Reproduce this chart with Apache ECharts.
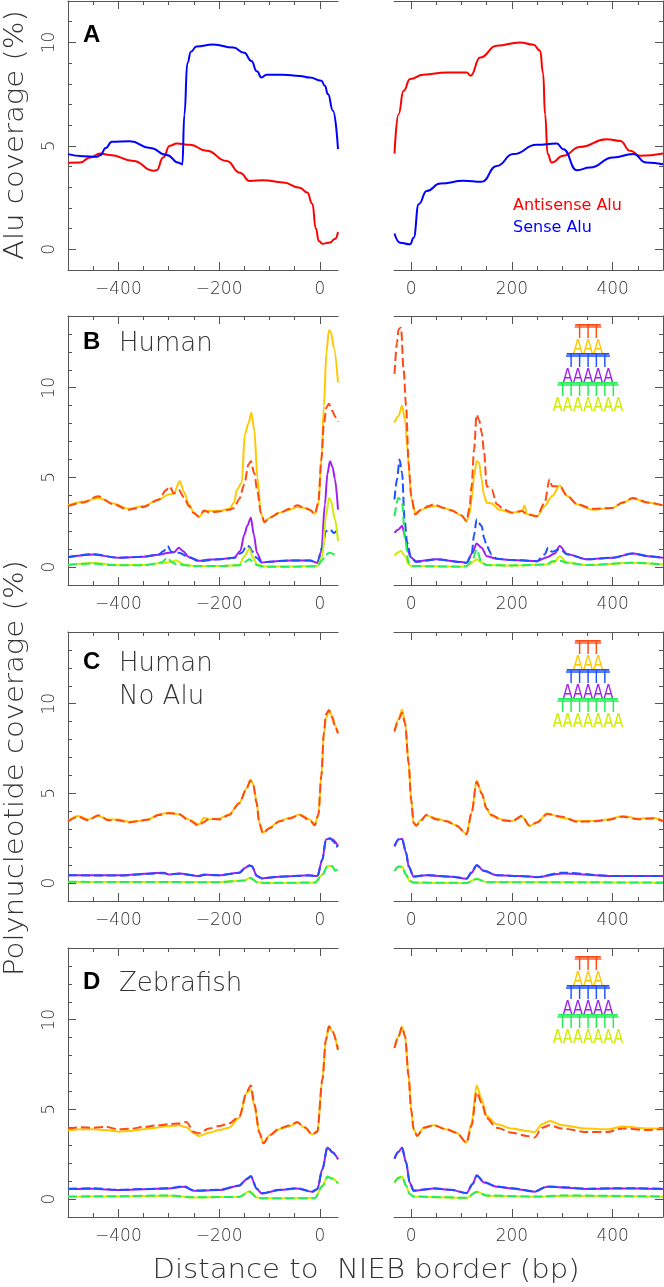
<!DOCTYPE html>
<html><head><meta charset="utf-8">
<script src="https://cdn.jsdelivr.net/npm/echarts@6/dist/echarts.min.js"></script>
<style>html,body{margin:0;padding:0;background:#fff}#c{width:664px;height:1287px}</style>
</head><body><div id="c"></div>
<script>
// ---------- tick values ----------
const X_MAJOR_L = [-400, -200, 0];
const X_MINOR_L = [-450, -350, -300, -250, -150, -100, -50];
const X_MAJOR_R = [0, 200, 400];
const X_MINOR_R = [50, 100, 150, 250, 300, 350, 450];
const Y_MAJOR = [0, 5, 10];
const Y_MINOR_A = [1, 2, 3, 4, 6, 7, 8, 9, 11];
const Y_MINOR_B = [1, 2, 3, 4, 6, 7, 8, 9, 11, 12, 13];

// ---------- Panel A: Alu coverage ----------
const A_L_antisense = [[-500,4.18],[-476,4.2],[-456,4.44],[-436,4.63],[-417,4.56],[-370,4.27],[-331,3.8],[-324,3.82],[-311,4.44],[-298,5.0],[-284,5.11],[-258,5.05],[-225,4.76],[-185,4.27],[-159,3.7],[-139,3.3],[-112,3.34],[-73,3.23],[-40,2.98],[-25,2.75],[-15,2.2],[-8,1.0],[-2,0.4],[5,0.27],[20,0.33],[30,0.5],[36,0.84]];
const A_L_sense = [[-500,4.6],[-470,4.5],[-443,4.47],[-436,4.55],[-425,4.9],[-413,5.2],[-377,5.22],[-337,4.9],[-304,4.56],[-280,4.18],[-273,4.1],[-269,6.5],[-263,9.0],[-256,9.55],[-245,9.8],[-212,9.9],[-172,9.75],[-150,9.5],[-136,9.1],[-125,8.6],[-116,8.3],[-106,8.44],[-73,8.44],[-40,8.38],[-20,8.3],[3,8.15],[10,7.9],[16,7.5],[26,6.7],[36,4.84]];
const A_R_antisense = [[-33,4.63],[-25,6.53],[-15,7.66],[-2,8.23],[24,8.44],[71,8.55],[110,8.55],[118,8.39],[137,9.27],[170,9.84],[216,10.0],[243,9.89],[256,9.6],[262,8.5],[266,6.5],[271,4.6],[279,4.19],[302,4.52],[335,4.95],[388,5.32],[415,5.24],[435,4.76],[454,4.52],[500,4.63]];
const A_R_sense = [[-33,0.76],[-22,0.32],[-2,0.24],[5,0.56],[15,2.18],[31,2.82],[58,3.18],[104,3.31],[140,3.26],[170,4.03],[203,4.6],[249,5.05],[289,5.11],[302,4.84],[329,3.82],[355,3.95],[401,4.44],[441,4.6],[467,4.19],[500,4.11]];

// ---------- Panel B: Human ----------
const B_L_AAA = [[-500,3.44],[-470,3.64],[-440,3.85],[-410,3.55],[-380,3.25],[-350,3.4],[-320,3.77],[-300,4.05],[-290,4.1],[-278,4.8],[-270,4.2],[-260,3.5],[-250,3.03],[-240,2.8],[-230,3.1],[-220,3.12],[-200,3.12],[-180,3.25],[-170,3.6],[-165,4.3],[-155,4.7],[-149,7.4],[-142,8.0],[-136,8.6],[-130,7.6],[-124,5.0],[-117,3.0],[-110,2.5],[-100,2.75],[-80,3.03],[-60,3.2],[-45,3.35],[-30,3.3],[-20,3.2],[-10,2.97],[-3,3.5],[3,6.0],[8,9.0],[13,12.0],[18,13.2],[22,13.1],[28,12.2],[36,10.3]];
const B_L_TTT = [[-500,3.4],[-470,3.6],[-440,3.95],[-410,3.5],[-380,3.2],[-350,3.35],[-320,3.75],[-305,4.3],[-298,4.5],[-290,4.1],[-280,4.3],[-270,3.9],[-260,3.4],[-250,3.0],[-240,2.8],[-230,3.15],[-220,3.05],[-200,3.1],[-180,3.2],[-170,3.3],[-160,3.8],[-150,4.6],[-142,5.7],[-137,5.9],[-130,5.2],[-124,4.2],[-117,3.0],[-110,2.5],[-100,2.75],[-80,3.03],[-60,3.25],[-45,3.45],[-30,3.3],[-20,3.2],[-10,2.95],[-3,3.6],[3,6.0],[8,8.0],[13,8.9],[18,9.1],[25,8.7],[30,8.4],[36,8.1]];
const B_L_AAAAA = [[-500,0.56],[-450,0.7],[-400,0.52],[-350,0.58],[-320,0.68],[-300,0.8],[-290,0.82],[-280,1.08],[-272,0.9],[-260,0.55],[-240,0.35],[-220,0.42],[-200,0.43],[-170,0.52],[-158,0.9],[-150,1.8],[-144,2.3],[-137,2.75],[-131,1.8],[-125,0.8],[-115,0.25],[-100,0.3],[-60,0.37],[-20,0.37],[-5,0.24],[3,0.9],[10,3.5],[15,5.2],[20,5.9],[25,5.6],[30,4.9],[36,3.2]];
const B_L_TTTTT = [[-500,0.55],[-450,0.72],[-400,0.52],[-350,0.58],[-320,0.7],[-310,0.9],[-302,1.17],[-295,0.85],[-280,0.8],[-260,0.55],[-240,0.33],[-200,0.43],[-170,0.52],[-155,0.8],[-145,1.2],[-140,1.15],[-135,0.9],[-125,0.5],[-115,0.25],[-100,0.3],[-60,0.37],[-20,0.37],[-5,0.24],[5,1.1],[12,2.0],[20,2.1],[28,1.9],[36,2.1]];
const B_L_AAAAAAA = [[-500,0.11],[-450,0.22],[-400,0.12],[-350,0.12],[-310,0.22],[-300,0.27],[-285,0.37],[-270,0.15],[-250,0.06],[-200,0.06],[-160,0.12],[-150,0.6],[-140,1.02],[-132,0.5],[-125,0.15],[-110,0.03],[-50,0.03],[-5,0.06],[5,0.6],[12,2.8],[18,3.85],[22,3.7],[30,2.66],[36,1.45]];
const B_L_TTTTTTT = [[-500,0.12],[-450,0.2],[-420,0.12],[-400,0.1],[-350,0.1],[-315,0.25],[-302,0.52],[-295,0.3],[-285,0.15],[-250,0.06],[-200,0.06],[-160,0.1],[-148,0.3],[-140,0.43],[-132,0.3],[-125,0.1],[-110,0.02],[-50,0.02],[-5,0.05],[5,0.4],[12,0.7],[20,0.8],[30,0.7],[36,0.76]];
const B_R_AAA = [[-33,8.05],[-25,8.42],[-18,9.0],[-12,8.2],[-7,6.5],[-3,5.0],[0,3.9],[8,3.03],[20,3.2],[35,3.35],[50,3.4],[65,3.3],[80,3.18],[100,2.88],[110,2.56],[116,3.0],[120,3.77],[125,5.07],[130,5.9],[135,5.82],[140,4.9],[145,3.96],[150,3.59],[160,3.55],[175,3.2],[200,3.03],[220,3.12],[225,3.44],[230,2.94],[250,2.84],[265,3.4],[280,3.96],[295,4.55],[310,3.96],[330,3.49],[360,3.2],[400,3.3],[420,3.59],[440,3.83],[470,3.59],[500,3.44]];
const B_R_TTT = [[-33,10.77],[-28,12.5],[-25,13.25],[-20,13.35],[-15,11.0],[-10,9.0],[-5,5.8],[0,4.0],[8,2.94],[20,3.2],[35,3.4],[45,3.5],[50,3.45],[65,3.3],[80,3.15],[100,2.88],[110,2.56],[116,3.3],[120,4.5],[125,6.56],[130,8.5],[135,8.2],[140,7.5],[145,6.37],[150,4.5],[160,4.33],[170,3.5],[185,3.2],[200,3.03],[220,3.12],[230,2.94],[250,2.84],[265,3.6],[275,4.9],[280,4.5],[295,4.5],[310,3.96],[330,3.5],[360,3.25],[400,3.3],[420,3.6],[440,3.85],[470,3.6],[500,3.44]];
const B_R_AAAAA = [[-33,1.91],[-25,2.1],[-18,2.29],[-12,1.73],[-5,0.8],[0,0.52],[10,0.33],[50,0.43],[100,0.28],[110,0.24],[122,0.8],[130,1.32],[140,1.08],[150,0.61],[170,0.46],[200,0.39],[250,0.33],[270,0.55],[285,0.76],[295,1.17],[310,0.71],[350,0.43],[400,0.52],[440,0.76],[470,0.61],[500,0.52]];
const B_R_TTTTT = [[-33,3.77],[-28,4.9],[-23,6.0],[-18,5.26],[-13,2.66],[-8,1.36],[0,0.52],[10,0.28],[50,0.43],[100,0.28],[110,0.24],[120,0.7],[125,1.8],[130,2.66],[140,2.29],[145,1.6],[150,1.17],[160,0.7],[170,0.46],[200,0.39],[250,0.33],[265,0.7],[272,1.08],[280,0.85],[295,1.0],[310,0.71],[350,0.43],[400,0.52],[440,0.76],[470,0.61],[500,0.52]];
const B_R_AAAAAAA = [[-33,0.65],[-20,0.89],[-12,0.61],[-5,0.15],[0,0.06],[100,0.02],[110,0.06],[125,0.33],[130,0.43],[140,0.25],[150,0.11],[200,0.09],[270,0.15],[285,0.3],[295,0.61],[310,0.24],[350,0.11],[440,0.24],[500,0.15]];
const B_R_TTTTTTT = [[-33,2.84],[-25,3.87],[-18,3.59],[-12,1.54],[-5,0.24],[0,0.06],[100,0.02],[110,0.06],[122,0.4],[130,0.99],[140,0.24],[150,0.11],[200,0.09],[270,0.15],[280,0.33],[295,0.35],[310,0.24],[350,0.11],[440,0.24],[500,0.15]];

// ---------- Panel C: Human, no Alu ----------
const C_L_AAA = [[-500,3.46],[-480,3.74],[-460,3.55],[-440,3.74],[-420,3.55],[-400,3.55],[-380,3.42],[-360,3.46],[-340,3.55],[-320,3.83],[-300,3.92],[-280,3.83],[-260,3.55],[-240,3.27],[-230,3.64],[-220,3.55],[-200,3.6],[-180,3.83],[-160,4.48],[-145,5.3],[-138,5.78],[-132,5.5],[-126,4.6],[-120,3.36],[-113,2.81],[-100,3.09],[-80,3.46],[-60,3.64],[-40,3.83],[-20,3.55],[-10,3.27],[-3,3.8],[3,6.0],[8,8.3],[12,9.2],[18,9.59],[25,9.3],[30,8.8],[36,8.38]];
const C_L_TTT = [[-500,3.44],[-480,3.7],[-460,3.5],[-440,3.78],[-420,3.5],[-400,3.5],[-380,3.38],[-360,3.45],[-340,3.55],[-320,3.8],[-300,3.9],[-280,3.85],[-260,3.5],[-240,3.2],[-230,3.4],[-220,3.6],[-200,3.55],[-180,3.8],[-160,4.45],[-145,5.3],[-138,5.7],[-132,5.45],[-126,4.5],[-120,3.3],[-113,2.78],[-100,3.05],[-80,3.45],[-60,3.6],[-40,3.8],[-20,3.5],[-10,3.22],[-3,3.8],[3,6.0],[8,8.4],[12,9.4],[18,9.65],[25,9.2],[30,8.7],[36,8.35]];
const C_L_AAAAA = [[-500,0.43],[-400,0.43],[-310,0.58],[-300,0.48],[-280,0.54],[-240,0.39],[-230,0.48],[-200,0.43],[-160,0.58],[-148,0.85],[-140,0.99],[-135,0.95],[-125,0.39],[-115,0.26],[-80,0.35],[-20,0.43],[-5,0.39],[5,1.32],[12,2.43],[20,2.5],[25,2.43],[36,2.06]];
const C_L_TTTTT = [[-500,0.44],[-400,0.42],[-310,0.55],[-300,0.5],[-280,0.52],[-240,0.4],[-230,0.45],[-200,0.44],[-160,0.57],[-148,0.83],[-140,0.97],[-135,0.93],[-125,0.4],[-115,0.27],[-80,0.36],[-20,0.42],[-5,0.38],[5,1.3],[12,2.4],[20,2.48],[28,2.3],[32,2.0],[36,2.1]];
const C_L_AAAAAAA = [[-500,0.06],[-200,0.06],[-150,0.15],[-138,0.3],[-125,0.06],[-110,0.0],[-10,0.02],[5,0.48],[15,0.95],[25,0.95],[30,0.67],[36,0.76]];
const C_L_TTTTTTT = [[-500,0.07],[-200,0.05],[-150,0.14],[-138,0.28],[-125,0.05],[-110,0.01],[-10,0.03],[5,0.46],[15,0.93],[25,0.94],[30,0.7],[36,0.75]];
const C_R_AAA = [[-33,8.48],[-25,9.13],[-18,9.68],[-12,8.94],[-5,6.71],[0,4.67],[5,3.36],[10,3.22],[20,3.55],[30,3.77],[50,3.6],[70,3.46],[90,3.22],[110,2.75],[120,3.92],[130,5.69],[140,5.04],[150,4.11],[160,3.74],[180,3.55],[200,3.46],[220,3.7],[235,3.18],[250,3.4],[270,3.88],[300,3.64],[330,3.46],[360,3.46],[390,3.55],[420,3.74],[450,3.59],[480,3.64],[500,3.46]];
const C_R_TTT = [[-33,8.45],[-25,9.1],[-18,9.5],[-12,8.9],[-5,6.7],[0,4.65],[5,3.35],[10,3.2],[20,3.5],[30,3.8],[50,3.55],[70,3.45],[90,3.2],[110,2.72],[120,3.9],[130,5.65],[140,5.0],[150,4.15],[160,3.8],[180,3.5],[200,3.44],[220,3.75],[235,3.2],[250,3.38],[270,3.85],[300,3.7],[330,3.42],[360,3.44],[390,3.52],[420,3.7],[450,3.56],[480,3.6],[500,3.46]];
const C_R_AAAAA = [[-33,2.06],[-25,2.43],[-18,2.47],[-10,1.69],[-5,0.95],[5,0.35],[30,0.43],[80,0.35],[110,0.24],[120,0.58],[130,0.99],[145,0.67],[170,0.43],[220,0.39],[250,0.33],[300,0.54],[400,0.39],[500,0.39]];
const C_R_TTTTT = [[-33,2.04],[-25,2.45],[-18,2.45],[-10,1.7],[-5,0.93],[5,0.36],[30,0.45],[80,0.36],[110,0.25],[120,0.6],[130,1.0],[145,0.68],[170,0.44],[220,0.38],[250,0.34],[300,0.58],[400,0.4],[500,0.4]];
const C_R_AAAAAAA = [[-33,0.67],[-25,0.91],[-18,0.91],[-10,0.48],[-3,0.11],[5,0.02],[110,0.0],[130,0.24],[150,0.06],[500,0.02]];
const C_R_TTTTTTT = [[-33,0.68],[-25,0.92],[-18,0.9],[-10,0.47],[-3,0.12],[5,0.03],[110,0.01],[130,0.22],[150,0.05],[500,0.03]];

// ---------- Panel D: Zebrafish ----------
const D_L_AAA = [[-500,3.83],[-475,3.9],[-450,3.89],[-425,3.85],[-400,3.76],[-375,3.8],[-350,3.89],[-325,3.98],[-300,4.07],[-280,4.11],[-265,4.0],[-250,3.67],[-240,3.52],[-220,3.7],[-200,3.85],[-180,3.98],[-160,4.54],[-145,5.93],[-137,6.11],[-130,5.19],[-120,3.7],[-112,3.11],[-100,3.56],[-80,3.89],[-60,4.07],[-45,4.26],[-30,3.98],[-15,3.61],[-5,3.8],[5,6.67],[12,8.89],[18,9.63],[25,9.35],[36,8.33]];
const D_L_TTT = [[-500,3.93],[-475,4.0],[-450,3.98],[-425,4.02],[-400,3.89],[-375,3.92],[-350,4.02],[-325,4.1],[-300,4.17],[-280,4.22],[-265,4.3],[-250,3.74],[-240,3.67],[-220,3.93],[-200,4.07],[-180,4.22],[-160,4.6],[-145,6.0],[-137,6.33],[-130,5.3],[-120,3.7],[-112,3.11],[-100,3.56],[-80,3.95],[-60,4.1],[-45,4.3],[-30,4.0],[-15,3.61],[-5,3.75],[5,6.67],[12,8.89],[18,9.63],[25,9.35],[36,8.33]];
const D_L_AAAAA = [[-500,0.56],[-450,0.58],[-400,0.5],[-350,0.55],[-300,0.59],[-270,0.69],[-250,0.46],[-200,0.5],[-160,0.74],[-145,1.11],[-137,1.26],[-125,0.56],[-115,0.31],[-80,0.5],[-45,0.59],[-15,0.41],[-5,0.56],[5,1.67],[15,2.87],[25,2.63],[36,2.22]];
const D_L_TTTTT = [[-500,0.58],[-450,0.6],[-400,0.52],[-350,0.56],[-300,0.6],[-270,0.72],[-250,0.48],[-200,0.52],[-160,0.76],[-145,1.13],[-137,1.28],[-125,0.57],[-115,0.32],[-80,0.52],[-45,0.6],[-15,0.42],[-5,0.55],[5,1.65],[15,2.9],[25,2.6],[36,2.22]];
const D_L_AAAAAAA = [[-500,0.13],[-400,0.15],[-300,0.19],[-250,0.09],[-160,0.13],[-140,0.43],[-125,0.09],[-115,0.04],[-10,0.06],[5,0.74],[15,1.26],[25,1.15],[36,0.87]];
const D_L_TTTTTTT = [[-500,0.14],[-400,0.16],[-300,0.2],[-250,0.1],[-160,0.12],[-140,0.41],[-125,0.08],[-115,0.05],[-10,0.05],[5,0.72],[15,1.24],[25,1.13],[36,0.88]];
const D_R_AAA = [[-33,8.43],[-25,9.07],[-18,9.59],[-12,9.07],[-5,6.85],[0,5.0],[5,3.89],[12,3.52],[25,3.98],[45,4.11],[70,3.89],[90,3.7],[110,3.15],[120,4.26],[130,6.33],[140,5.56],[150,4.63],[170,4.17],[200,3.93],[230,3.8],[245,3.74],[260,4.17],[275,4.35],[300,4.11],[350,3.93],[390,3.89],[420,4.04],[470,3.94],[500,3.93]];
const D_R_TTT = [[-33,8.43],[-25,9.07],[-18,9.59],[-12,9.07],[-5,6.85],[0,5.0],[5,3.89],[12,3.52],[25,3.98],[45,4.11],[70,3.89],[90,3.7],[110,3.15],[120,4.1],[130,5.96],[140,5.37],[150,4.5],[170,3.98],[200,3.7],[230,3.52],[245,3.43],[260,3.98],[275,4.11],[300,3.93],[350,3.74],[390,3.74],[420,3.94],[470,3.85],[500,3.9]];
const D_R_AAAAA = [[-33,2.26],[-25,2.63],[-18,2.87],[-10,2.04],[-3,0.93],[5,0.46],[20,0.5],[45,0.59],[80,0.5],[110,0.33],[122,0.83],[130,1.33],[145,0.93],[170,0.69],[200,0.59],[245,0.41],[270,0.69],[300,0.65],[350,0.56],[400,0.59],[450,0.59],[500,0.56]];
const D_R_TTTTT = [[-33,2.25],[-25,2.65],[-18,2.85],[-10,2.05],[-3,0.95],[5,0.47],[20,0.52],[45,0.6],[80,0.52],[110,0.34],[122,0.84],[130,1.3],[145,0.95],[170,0.7],[200,0.6],[245,0.43],[270,0.7],[300,0.66],[350,0.58],[400,0.6],[450,0.6],[500,0.57]];
const D_R_AAAAAAA = [[-33,0.93],[-25,1.2],[-18,1.26],[-10,0.74],[-3,0.28],[5,0.13],[110,0.06],[130,0.41],[150,0.19],[250,0.13],[300,0.19],[500,0.13]];
const D_R_TTTTTTT = [[-33,0.92],[-25,1.18],[-18,1.25],[-10,0.75],[-3,0.29],[5,0.14],[110,0.07],[130,0.4],[150,0.2],[250,0.14],[300,0.2],[500,0.14]];

// ---------- labels ----------
const POLY_NAMES = ['TTT', 'AAA', 'TTTTT', 'AAAAA', 'TTTTTTT', 'AAAAAAA'];
const POLY_COLORS = ['#ff4a14', '#ffc800', '#1f50ff', '#a020f0', '#22ee55', '#ccee00'];
const POLY_DASHED = [true, false, true, false, true, false];
const PANEL_LETTERS = ['A', 'B', 'C', 'D'];
const PANEL_NAMES = [[], ['Human'], ['Human', 'No Alu'], ['Zebrafish']];

// ---------- layout ----------
const TOPS = [1, 316, 632, 948];
const H = 269;
const GL = {left: 68, width: 270};
const GR = {left: 394, width: 269};
const AX = '#555';
const FONT = '"DejaVu Sans", sans-serif';
const TXT = '#333';
const LIGHT = 200;

const grids = [], xAxes = [], yAxes = [], series = [], graphic = [];
const fmt = v => (v < 0 ? '\u2212' + (-v) : '' + v);

for (let r = 0; r < 4; r++) {
  for (let s = 0; s < 2; s++) {
    const g = r * 2 + s;
    const G = s ? GR : GL;
    grids.push({left: G.left, width: G.width, top: TOPS[r], height: H, containLabel: false});
    const xmin = s ? -34 : -500, xmax = s ? 500 : 36;
    const xMaj = s ? X_MAJOR_R : X_MAJOR_L, xMin = s ? X_MINOR_R : X_MINOR_L;
    const line = {show: true, onZero: false, lineStyle: {color: AX, width: 1}};
    const tickStyle = {color: AX, width: 1};
    xAxes.push(
      {gridIndex: g, type: 'value', position: 'bottom', min: xmin, max: xmax,
       axisLine: line, splitLine: {show: false},
       axisTick: {show: true, inside: true, length: 8, customValues: xMaj, lineStyle: tickStyle},
       axisLabel: {show: true, customValues: xMaj, formatter: fmt, color: TXT, fontSize: 17, fontFamily: FONT, fontWeight: LIGHT, margin: 11}},
      {gridIndex: g, type: 'value', position: 'bottom', min: xmin, max: xmax,
       axisLine: {show: false, onZero: false}, splitLine: {show: false},
       axisTick: {show: true, inside: true, length: 4, customValues: xMin, lineStyle: tickStyle},
       axisLabel: {show: false}},
      {gridIndex: g, type: 'value', position: 'top', min: xmin, max: xmax,
       axisLine: line, splitLine: {show: false},
       axisTick: {show: true, inside: true, length: 8, customValues: xMaj, lineStyle: tickStyle},
       axisLabel: {show: false}},
      {gridIndex: g, type: 'value', position: 'top', min: xmin, max: xmax,
       axisLine: {show: false, onZero: false}, splitLine: {show: false},
       axisTick: {show: true, inside: true, length: 4, customValues: xMin, lineStyle: tickStyle},
       axisLabel: {show: false}}
    );
    const ymax = r === 0 ? 12 : 14;
    const yMin = r === 0 ? Y_MINOR_A : Y_MINOR_B;
    const pos = s ? 'right' : 'left';
    yAxes.push(
      {gridIndex: g, type: 'value', position: pos, min: -1, max: ymax,
       axisLine: line, splitLine: {show: false},
       axisTick: {show: true, inside: true, length: 8, customValues: Y_MAJOR, lineStyle: tickStyle},
       axisLabel: {show: s === 0, customValues: Y_MAJOR, rotate: 90, color: TXT, fontSize: 17, fontFamily: FONT, fontWeight: LIGHT, margin: 10}},
      {gridIndex: g, type: 'value', position: pos, min: -1, max: ymax,
       axisLine: {show: false, onZero: false}, splitLine: {show: false},
       axisTick: {show: true, inside: true, length: 4, customValues: yMin, lineStyle: tickStyle},
       axisLabel: {show: false}}
    );
  }
}

function addLine(g, data, color, dashed, smooth) {
  series.push({
    type: 'line', xAxisIndex: g * 4, yAxisIndex: g * 2, data: data,
    showSymbol: false, symbol: 'none', smooth: smooth, smoothMonotone: 'x',
    lineStyle: {color: color, width: 2, type: dashed ? [9, 4] : 'solid'},
    itemStyle: {color: color}, animation: false, silent: true, clip: true
  });
}

// Panel A
addLine(0, A_L_antisense, '#ff0000', false, 0.5);
addLine(0, A_L_sense, '#0000ff', false, 0.5);
addLine(1, A_R_antisense, '#ff0000', false, 0.5);
addLine(1, A_R_sense, '#0000ff', false, 0.5);

// Panels B-D
const POLY_DATA = [
  [[B_L_TTT, B_L_AAA, B_L_TTTTT, B_L_AAAAA, B_L_TTTTTTT, B_L_AAAAAAA], [B_R_TTT, B_R_AAA, B_R_TTTTT, B_R_AAAAA, B_R_TTTTTTT, B_R_AAAAAAA]],
  [[C_L_TTT, C_L_AAA, C_L_TTTTT, C_L_AAAAA, C_L_TTTTTTT, C_L_AAAAAAA], [C_R_TTT, C_R_AAA, C_R_TTTTT, C_R_AAAAA, C_R_TTTTTTT, C_R_AAAAAAA]],
  [[D_L_TTT, D_L_AAA, D_L_TTTTT, D_L_AAAAA, D_L_TTTTTTT, D_L_AAAAAAA], [D_R_TTT, D_R_AAA, D_R_TTTTT, D_R_AAAAA, D_R_TTTTTTT, D_R_AAAAAAA]]
];
const DRAW_ORDER = [1, 0, 3, 2, 5, 4];
for (let p = 0; p < 3; p++) {
  for (let s = 0; s < 2; s++) {
    const g = (p + 1) * 2 + s;
    DRAW_ORDER.forEach(i => addLine(g, POLY_DATA[p][s][i], POLY_COLORS[i], POLY_DASHED[i], 0.3));
  }
}

// ---------- text ----------
function txt(x, y, text, opts) {
  const o = Object.assign({fill: TXT, fontSize: 26, fontFamily: FONT, fontWeight: LIGHT, align: 'left', rot: 0, sx: 1}, opts || {});
  graphic.push({
    type: 'text', x: x, y: y, rotation: o.rot, scaleX: o.sx, silent: true, z: 100,
    style: {text: text, fill: o.fill, fontSize: o.fontSize, fontFamily: o.fontFamily, fontWeight: o.fontWeight,
            align: o.align, verticalAlign: 'middle', textAlign: o.align, textVerticalAlign: 'middle'}
  });
}
const LETTER_Y = [35, 342, 662, 982];
for (let r = 0; r < 4; r++) {
  txt(83, LETTER_Y[r], PANEL_LETTERS[r], {fill: '#000', fontSize: 24, fontFamily: '"Liberation Sans", Arial, sans-serif', fontWeight: 'bold'});
  PANEL_NAMES[r].forEach((n, k) => txt(119, LETTER_Y[r] + 2 + k * 33, n, {fontSize: 26}));
}
txt(513, 206, 'Antisense Alu', {fill: '#ff0000', fontSize: 16, fontWeight: 'normal'});
txt(513, 228, 'Sense Alu', {fill: '#0000ff', fontSize: 16, fontWeight: 'normal'});

const LEG_OFF = [17, 31.5, 46, 60.5, 75, 89.5];
for (let r = 1; r < 4; r++) {
  POLY_NAMES.forEach((n, i) => {
    const y = TOPS[r] + LEG_OFF[i];
    txt(588, y + 0.5, n, {fill: POLY_COLORS[i], fontSize: 19, align: 'center', sx: 0.75, fontWeight: 'normal'});
    if (n[0] === 'T') {
      const w = n.length * 8.6 + 1;
      graphic.push({type: 'line', silent: true, z: 101,
        shape: {x1: 588 - w / 2, y1: y - 6, x2: 588 + w / 2, y2: y - 6},
        style: {stroke: POLY_COLORS[i], lineWidth: 1.3}});
    }
  });
}

txt(16, 135, 'Alu coverage (%)', {fontSize: 27, align: 'center', rot: Math.PI / 2, sx: 1.08});
txt(16, 768, 'Polynucleotide coverage (%)', {fontSize: 27, align: 'center', rot: Math.PI / 2, sx: 1.08});
txt(366, 1271, 'Distance to  NIEB border (bp)', {fontSize: 27, align: 'center', sx: 1.08});

const chart = echarts.init(document.getElementById('c'), null, {renderer: 'canvas'});
chart.setOption({
  backgroundColor: '#fff',
  animation: false,
  grid: grids, xAxis: xAxes, yAxis: yAxes, series: series, graphic: graphic
});
</script></body></html>
